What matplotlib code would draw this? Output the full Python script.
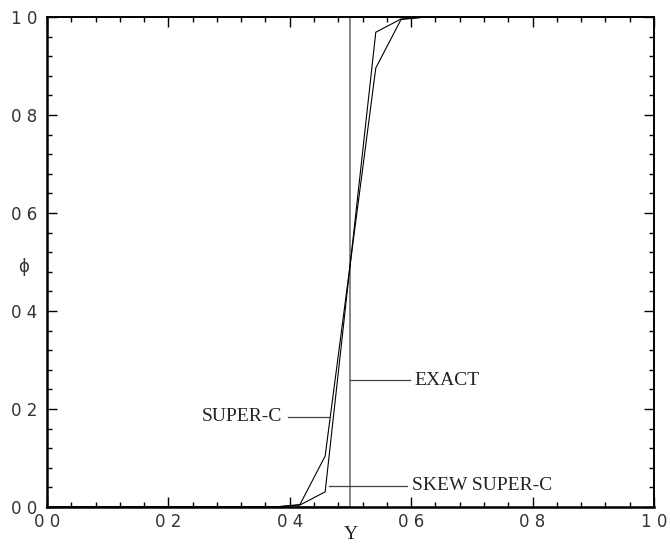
import numpy as np
import matplotlib
matplotlib.use("Agg")
import matplotlib.pyplot as plt
from matplotlib.ticker import MultipleLocator

# profile nodes (grid spacing 1/24) across the step at Y = 0.5
y_nodes = [0.0, 0.375, 0.4167, 0.4583, 0.5, 0.5417, 0.5833, 0.625, 1.0]
phi_superc = [0.0, 0.0, 0.005, 0.104, 0.5, 0.896, 0.995, 1.0, 1.0]
phi_skew = [0.0, 0.0, 0.004, 0.031, 0.5, 0.969, 0.996, 1.0, 1.0]

# exact solution: unit step
y_exact = [0.0, 0.5, 0.5, 1.0]
phi_exact = [0.0, 0.0, 1.0, 1.0]

tick_vals = [0.0, 0.2, 0.4, 0.6, 0.8, 1.0]
tick_text = ["0 0", "0 2", "0 4", "0 6", "0 8", "1 0"]

# (label, leader start, leader end, phi of leader)
labels = [
    ("EXACT", 0.5, 0.598, 0.259),
    ("SUPER-C", 0.397, 0.466, 0.184),
    ("SKEW SUPER-C", 0.465, 0.593, 0.043),
]

fig = plt.figure(figsize=(6.70, 5.44), dpi=100)
ax = fig.add_axes([0.0701, 0.068, 0.906, 0.9007])

ax.plot(y_exact, phi_exact, color="#666666", lw=1.1, clip_on=False)
ax.plot(y_nodes, phi_superc, color="black", lw=0.8)
ax.plot(y_nodes, phi_skew, color="black", lw=0.8)

serif = "Liberation Serif"
for txt, x0, x1, p in labels:
    ax.plot([x0, x1], [p, p], color="#444444", lw=0.9)
    if x0 >= 0.5 or txt.startswith("SKEW"):
        ax.text(x1 + 0.008, p, txt, ha="left", va="center",
                fontsize=14, family=serif, color="#222222")
    else:
        ax.text(x0 - 0.01, p, txt, ha="right", va="center",
                fontsize=14, family=serif, color="#222222")

ax.set_xlim(0, 1)
ax.set_ylim(0, 1)
ax.set_xticks(tick_vals)
ax.set_yticks(tick_vals)
ax.set_xticklabels(tick_text, family="DejaVu Sans", fontsize=12, color="#333333")
ax.set_yticklabels(tick_text, family="DejaVu Sans", fontsize=12, color="#333333")
ax.xaxis.set_minor_locator(MultipleLocator(0.04))
ax.yaxis.set_minor_locator(MultipleLocator(0.04))
ax.tick_params(which="both", direction="in", top=True, right=True,
               width=1.0, color="black")
ax.tick_params(which="major", length=7, pad=4)
ax.tick_params(which="minor", length=3.5)
ax.tick_params(axis="y", pad=7)
for s in ax.spines.values():
    s.set_linewidth(1.4)
ax.spines["left"].set_linewidth(1.8)
ax.spines["bottom"].set_linewidth(1.8)

ax.set_xlabel("Y", family=serif, fontsize=14, labelpad=-3, color="#222222")
ax.text(-0.038, 0.49, "\u03d5", family="DejaVu Sans", fontsize=12,
        ha="center", va="center", transform=ax.transAxes, color="#333333")

fig.savefig("out.png", dpi=100)
